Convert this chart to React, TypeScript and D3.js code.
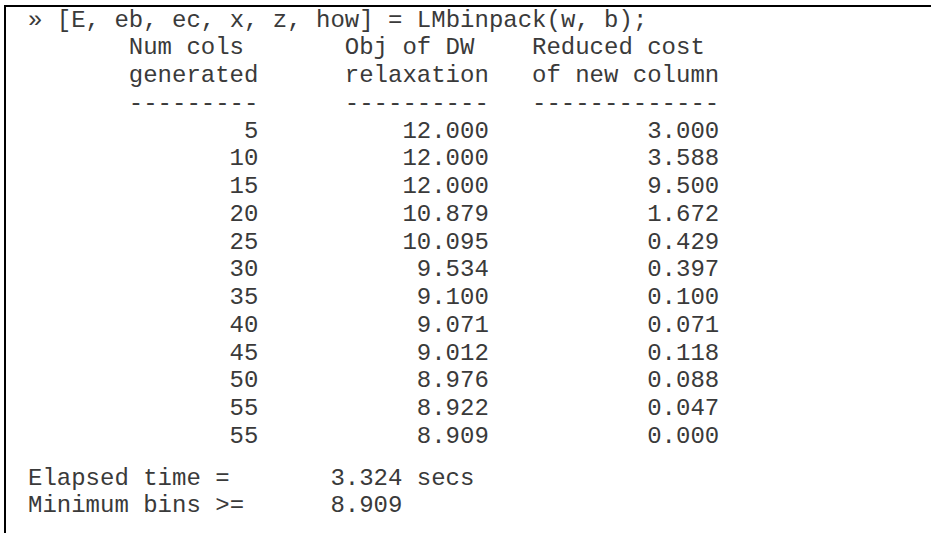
import { useRef, useEffect } from 'react';
import * as d3 from 'd3';

// values printed by LMbinpack
const numCols = [5, 10, 15, 20, 25, 30, 35, 40, 45, 50, 55, 55];
const objValues = [12.0, 12.0, 12.0, 10.879, 10.095, 9.534, 9.1, 9.071, 9.012, 8.976, 8.922, 8.909];
const reducedCost = [3.0, 3.588, 9.5, 1.672, 0.429, 0.397, 0.1, 0.071, 0.118, 0.088, 0.047, 0.0];

const command = ' » [E, eb, ec, x, z, how] = LMbinpack(w, b);';
const headers = [
  ['Num cols', 'generated', '---------'],
  ['Obj of DW', 'relaxation', '----------'],
  ['Reduced cost', 'of new column', '-------------'],
];
const elapsedTime = 3.324;
const minBins = 8.909;

export default function App() {
  const svgRef = useRef<SVGSVGElement>(null);

  useEffect(() => {
    const svgWidth = 931;
    const svgHeight = 533;
    const svg = d3.select(svgRef.current).attr('width', svgWidth).attr('height', svgHeight);
    svg.selectAll('*').remove();

    // character grid: one unit = one monospace cell
    const colX = d3.scaleLinear().domain([0, 1]).range([28, 28 + 14.4]);
    const rowY = d3.scaleLinear().domain([0, 15]).range([26.5, 443]);

    // header starts (col) and column right ends (exclusive col)
    const headerStart = [7, 22, 35];
    const colEnd = [16, 32, 48];

    svg
      .append('path')
      .attr('d', `M5,${svgHeight} V6 H${svgWidth}`)
      .attr('fill', 'none')
      .attr('stroke', '#000')
      .attr('stroke-width', 2);

    const g = svg
      .append('g')
      .attr('font-family', '"Liberation Mono", "Courier New", monospace')
      .attr('font-size', 24)
      .attr('fill', '#3a3a3a')
      .style('white-space', 'pre');

    g.append('text').attr('x', colX(0)).attr('y', rowY(0)).text(command);

    headers.forEach((h, i) => {
      h.forEach((line, j) => {
        g.append('text')
          .attr('x', colX(headerStart[i]))
          .attr('y', rowY(1 + j))
          .text(line);
      });
    });

    const rows = numCols.map((n, i) => ({
      cells: [String(n), d3.format('.3f')(objValues[i]), d3.format('.3f')(reducedCost[i])],
      i,
    }));

    rows.forEach((r) => {
      r.cells.forEach((c, k) => {
        g.append('text')
          .attr('x', colX(colEnd[k]))
          .attr('y', rowY(4 + r.i))
          .attr('text-anchor', 'end')
          .text(c);
      });
    });

    g.append('text').attr('x', colX(0)).attr('y', rowY(16.5)).text('Elapsed time  =');
    g.append('text')
      .attr('x', colX(21))
      .attr('y', rowY(16.5))
      .text(`${d3.format('.3f')(elapsedTime)} secs`);
    g.append('text').attr('x', colX(0)).attr('y', rowY(17.5)).text('Minimum bins >=');
    g.append('text').attr('x', colX(21)).attr('y', rowY(17.5)).text(d3.format('.3f')(minBins));
  }, []);

  return (
    <div>
      <svg ref={svgRef} style={{ position: 'absolute', left: 0, top: 0, display: 'block' }} />
    </div>
  );
}
